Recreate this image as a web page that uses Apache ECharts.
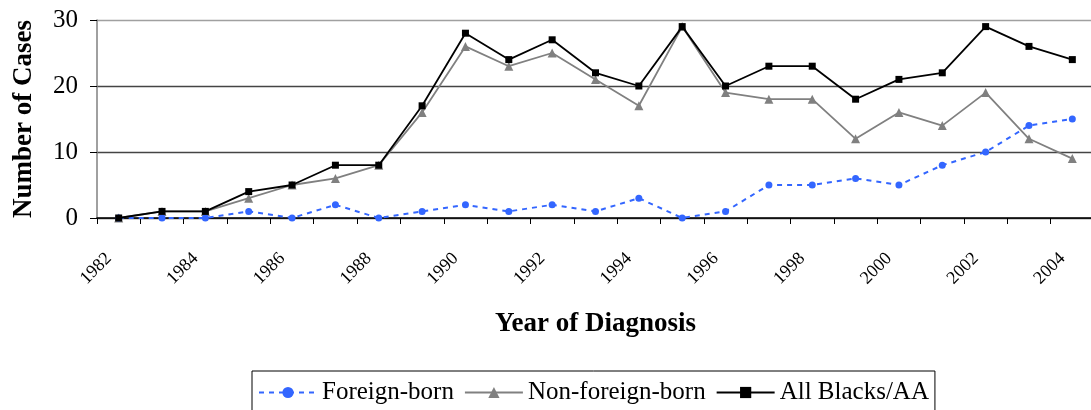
<!DOCTYPE html>
<html>
<head>
<meta charset="utf-8">
<script src="https://cdn.jsdelivr.net/npm/echarts@6/dist/echarts.min.js"></script>
<style>
  html, body { margin: 0; padding: 0; background: #fff; }
  #char1 { width: 1091px; height: 410px; }
</style>
</head>
<body>
<div id="char1"></div>
<script>
  // years and case counts
  var years = ['1982','1983','1984','1985','1986','1987','1988','1989','1990','1991','1992','1993',
               '1994','1995','1996','1997','1998','1999','2000','2001','2002','2003','2004'];
  var foreignBorn = [0,0,0,1,0,2,0,1,2,1,2,1,3,0,1,5,5,6,5,8,10,14,15];
  var nonForeignBorn = [0,1,1,3,5,6,8,16,26,23,25,21,17,29,19,18,18,12,16,14,19,12,9];
  var allBlacks = [0,1,1,4,5,8,8,17,28,24,27,22,20,29,20,23,23,18,21,22,29,26,24];
  var yTicks = [0, 10, 20, 30];

  var serif = '"Liberation Serif", "DejaVu Serif", serif';

  var dom = document.getElementById("char1");
  var myChart = echarts.init(dom);
  var option = {
    animation: false,
    textStyle: { fontFamily: serif },
    grid: {
      left: 97,
      right: -3,
      top: 20,
      bottom: 192,
      outerBoundsMode: 'none',
      containLabel: false
    },
    legend: {
      left: 252,
      top: 371,
      padding: [9, 6, 14, 6],
      borderColor: '#000',
      borderWidth: 1,
      itemWidth: 58,
      itemHeight: 14,
      itemGap: 10,
      textStyle: { fontFamily: serif, fontSize: 25, color: '#000' },
      data: ['Foreign-born', 'Non-foreign-born', 'All Blacks/AA']
    },
    xAxis: {
      type: 'category',
      data: years,
      boundaryGap: true,
      name: 'Year of Diagnosis',
      nameLocation: 'middle',
      nameGap: 93,
      nameTextStyle: { fontFamily: serif, fontSize: 27, fontWeight: 'bold', color: '#000' },
      axisLine: { lineStyle: { color: '#000', width: 1.5 } },
      axisTick: { show: true, interval: 0, length: 6, lineStyle: { color: '#000' } },
      axisLabel: {
        interval: 1,
        rotate: 45,
        margin: 28,
        padding: [0, 14, 24, 0],
        fontFamily: serif,
        fontSize: 18,
        color: '#000'
      }
    },
    yAxis: {
      type: 'value',
      min: yTicks[0],
      max: yTicks[yTicks.length - 1],
      interval: 10,
      name: 'Number of Cases',
      nameLocation: 'middle',
      nameGap: 59,
      nameTextStyle: { fontFamily: serif, fontSize: 27, fontWeight: 'bold', color: '#000' },
      axisLine: { show: true, lineStyle: { color: '#808080', width: 1.5 } },
      axisTick: { show: true, length: 7, lineStyle: { color: '#000' } },
      axisLabel: { fontFamily: serif, fontSize: 25, color: '#000', margin: 19 },
      splitLine: {
        show: true,
        lineStyle: { color: ['#444', '#444', '#444', '#a0a0a0'], width: 1.3 }
      }
    },
    series: [
      {
        name: 'Foreign-born',
        type: 'line',
        data: foreignBorn,
        symbol: 'circle',
        symbolSize: 7,
        itemStyle: { color: '#3366ff' },
        lineStyle: { color: '#3366ff', width: 2, type: [5, 5] },
        z: 3
      },
      {
        name: 'Non-foreign-born',
        type: 'line',
        data: nonForeignBorn,
        symbol: 'triangle',
        symbolSize: 9,
        itemStyle: { color: '#808080' },
        lineStyle: { color: '#808080', width: 1.8 },
        z: 2
      },
      {
        name: 'All Blacks/AA',
        type: 'line',
        data: allBlacks,
        symbol: 'rect',
        symbolSize: 7,
        itemStyle: { color: '#000' },
        lineStyle: { color: '#000', width: 1.8 },
        z: 4
      }
    ]
  };
  if (option && typeof option === "object") {
    myChart.setOption(option, true);
  }
</script>
</body>
</html>
